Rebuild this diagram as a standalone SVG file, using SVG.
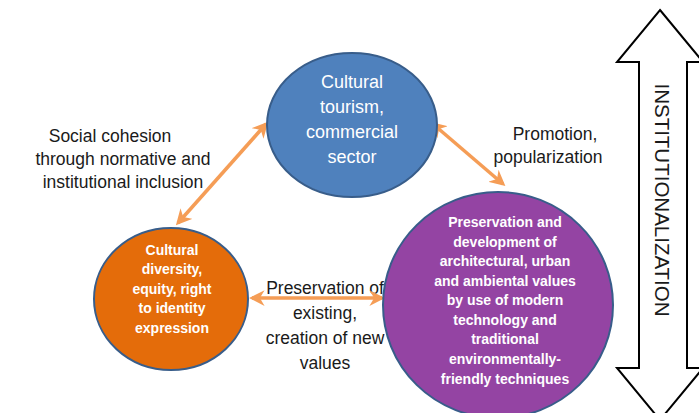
<svg xmlns="http://www.w3.org/2000/svg" width="699" height="413" viewBox="0 0 699 413">
<defs>
<style>
.lbl{font-family:"Liberation Sans","DejaVu Sans",sans-serif;font-size:17.5px;fill:#1a1a1a;text-anchor:middle}
.wt{font-family:"Liberation Sans","DejaVu Sans",sans-serif;fill:#ffffff;text-anchor:middle;font-size:18px}
.wtb{font-family:"Liberation Sans","DejaVu Sans",sans-serif;fill:#ffffff;text-anchor:middle;font-weight:bold;font-size:14px}
.conn{stroke:#f59d56;stroke-width:3.5;fill:none;marker-start:url(#ah);marker-end:url(#ah)}
</style>
<marker id="ah" viewBox="0 0 10 10" refX="8" refY="5" markerWidth="4.5" markerHeight="4.5" orient="auto-start-reverse" markerUnits="strokeWidth">
<path d="M0,0 L10,5 L0,10 L3,5 Z" fill="#f59d56"/>
</marker>
</defs>
<rect width="699" height="413" fill="#ffffff"/>
<g id="institutionalization">
<path d="M660,10 L703,62 L687,62 L687,368 L703,368 L660,420 L617,368 L639,368 L639,62 L617,62 Z" fill="#ffffff" stroke="#000000" stroke-width="2"/>
<text class="lbl" transform="translate(655,200) rotate(90)" style="font-size:20.5px">INSTITUTIONALIZATION</text>
</g>
<g id="labels">
<text class="lbl"><tspan x="110" y="142">Social cohesion</tspan><tspan x="123" y="165">through normative and</tspan><tspan x="123" y="188">institutional inclusion</tspan></text>
<text class="lbl"><tspan x="555" y="140">Promotion,</tspan><tspan x="548" y="163">popularization</tspan></text>
<text class="lbl"><tspan x="325" y="294">Preservation of</tspan><tspan x="325" y="319">existing,</tspan><tspan x="325" y="344">creation of new</tspan><tspan x="325" y="369">values</tspan></text>
</g>
<g id="connectors">
<line class="conn" x1="178" y1="223" x2="266" y2="124"/>
<line class="conn" x1="433" y1="124" x2="503" y2="184"/>
<line class="conn" x1="252" y1="298" x2="382" y2="298"/>
</g>
<g id="tourism">
<ellipse cx="352" cy="125" rx="85" ry="72" fill="#4f81bd" stroke="#385d8a" stroke-width="2"/>
<text class="wt"><tspan x="352" y="88">Cultural</tspan><tspan x="352" y="113">tourism,</tspan><tspan x="352" y="138">commercial</tspan><tspan x="352" y="163">sector</tspan></text>
</g>
<g id="diversity">
<ellipse cx="171" cy="299" rx="77" ry="71" fill="#e46c0a" stroke="#385d8a" stroke-width="2"/>
<text class="wtb"><tspan x="172" y="255">Cultural</tspan><tspan x="172" y="274">diversity,</tspan><tspan x="172" y="294">equity, right</tspan><tspan x="172" y="313">to identity</tspan><tspan x="172" y="333">expression</tspan></text>
</g>
<g id="preservation">
<ellipse cx="498" cy="305" rx="115" ry="113" fill="#9444a3" stroke="#385d8a" stroke-width="2"/>
<text class="wtb"><tspan x="505" y="227">Preservation and</tspan><tspan x="505" y="247">development of</tspan><tspan x="505" y="266">architectural, urban</tspan><tspan x="505" y="286">and ambiental values</tspan><tspan x="505" y="305">by use of modern</tspan><tspan x="505" y="325">technology and</tspan><tspan x="505" y="344">traditional</tspan><tspan x="505" y="364">environmentally-</tspan><tspan x="505" y="384">friendly techniques</tspan></text>
</g>
</svg>
